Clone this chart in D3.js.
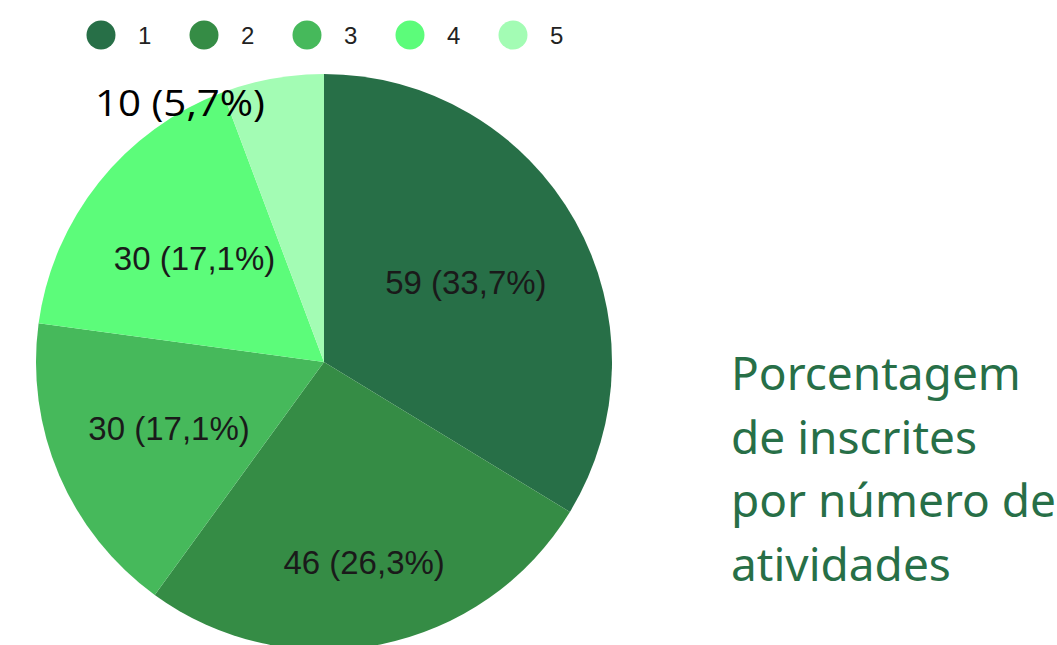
<!DOCTYPE html>
<html lang="pt">
<head>
    <meta charset="UTF-8">
    <title>Porcentagem de inscritas por número de atividades</title>
    <script src="https://cdn.jsdelivr.net/npm/d3@7"></script>
    <style>
        body { margin: 0; background: #fff; }
        svg { display: block; }
    </style>
</head>
<body>
<script type="text/javascript">
    // data
    var categories = ["1", "2", "3", "4", "5"];
    var values = [59, 46, 30, 30, 10];
    var colors = ["#276f47", "#358c45", "#46b95b", "#5cfc7a", "#a3fcb4"];
    var titleLines = ["Porcentagem", "de inscrites", "por número de", "atividades"];

    var w = 1057, h = 645;
    var cx = 324, cy = 362, r = 288;
    // how far from the centre each slice label sits (fraction of radius)
    var labelPos = [0.565, 0.71, 0.585, 0.575];

    var total = d3.sum(values);
    function fmt(v) {
        return v + " (" + (v / total * 100).toFixed(1).replace(".", ",") + "%)";
    }

    var svg = d3.select("body").append("svg")
        .attr("width", w)
        .attr("height", h);

    var pie = d3.pie().sort(null).value(function(d) { return d; });
    var arcs = pie(values);
    var arc = d3.arc().innerRadius(0).outerRadius(r);

    var g = svg.append("g").attr("transform", "translate(" + cx + "," + cy + ")");

    g.selectAll("path")
        .data(arcs)
        .enter()
        .append("path")
        .attr("d", arc)
        .attr("fill", function(d, i) { return colors[i]; });

    // labels inside slices (the small one is labelled outside)
    g.selectAll("text.slice")
        .data(arcs.slice(0, 4))
        .enter()
        .append("text")
        .attr("class", "slice")
        .attr("x", function(d, i) {
            var a = (d.startAngle + d.endAngle) / 2;
            return Math.sin(a) * r * labelPos[i];
        })
        .attr("y", function(d, i) {
            var a = (d.startAngle + d.endAngle) / 2;
            return -Math.cos(a) * r * labelPos[i];
        })
        .attr("text-anchor", "middle")
        .attr("dy", "0.35em")
        .attr("font-family", "'Liberation Sans', Arial, sans-serif")
        .attr("font-size", "33px")
        .attr("fill", "#1a1a1a")
        .text(function(d) { return fmt(d.data); });

    svg.append("text")
        .attr("x", 95)
        .attr("y", 116)
        .attr("font-family", "'Open Sans', Lato, sans-serif")
        .attr("font-size", "37px")
        .attr("textLength", 170)
        .attr("lengthAdjust", "spacingAndGlyphs")
        .attr("fill", "#000")
        .text(fmt(values[4]));

    // legend
    var legend = svg.selectAll("g.legend")
        .data(categories)
        .enter()
        .append("g")
        .attr("class", "legend")
        .attr("transform", function(d, i) {
            return "translate(" + (101 + i * 103) + ",35)";
        });
    legend.append("circle")
        .attr("r", 14.5)
        .attr("fill", function(d, i) { return colors[i]; });
    legend.append("text")
        .attr("x", 37)
        .attr("y", 9)
        .attr("font-family", "'Liberation Sans', Arial, sans-serif")
        .attr("font-size", "24px")
        .attr("fill", "#222")
        .text(function(d) { return d; });

    // title on the right
    svg.append("text")
        .attr("font-family", "'Noto Sans', 'Open Sans', sans-serif")
        .attr("font-size", "46px")
        .attr("fill", "#276f47")
        .selectAll("tspan")
        .data(titleLines)
        .enter()
        .append("tspan")
        .attr("x", 731)
        .attr("y", function(d, i) { return 390 + i * 63.5; })
        .text(function(d) { return d; });
</script>
</body>
</html>
